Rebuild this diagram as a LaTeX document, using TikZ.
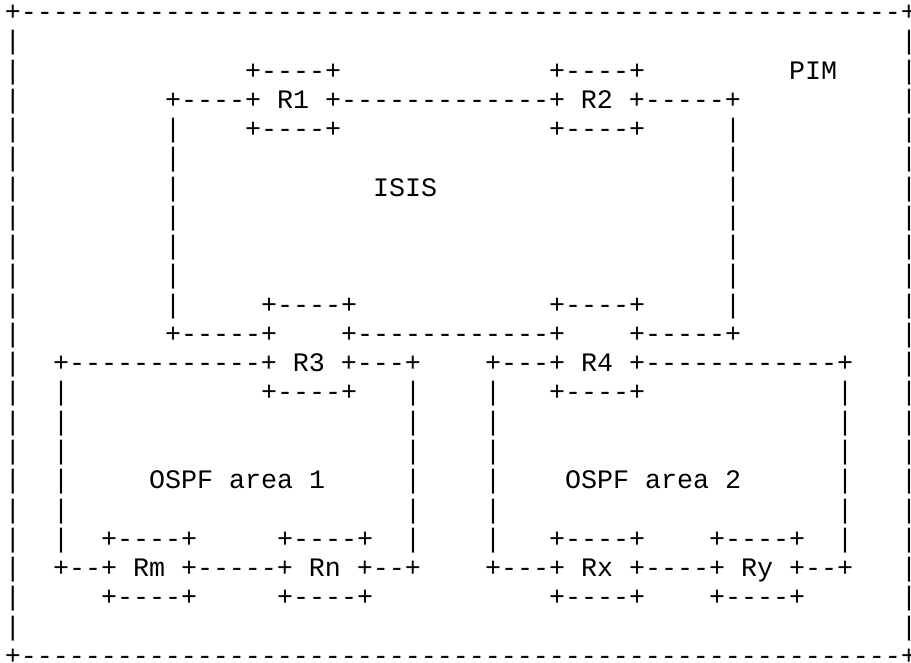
\documentclass[tikz,border=0pt]{standalone}
\usepackage{fontspec}
\setmonofont{Liberation Mono}
\usetikzlibrary{positioning}

\begin{document}
\begin{tikzpicture}[
  x=12pt, y=-21.95pt,
  ascii/.style={font=\ttfamily\fontsize{20}{22}\selectfont, anchor=base west, inner sep=0pt, outer sep=0pt}
]
\useasboundingbox[fill=white] (-0.3125,-0.7004) rectangle (56.625,21.951);

% PIM domain frame
\node[ascii] (pimtop) at (0,0) {+-------------------------------------------------------+};
\node[ascii] (pimbot) at (0,22) {+-------------------------------------------------------+};
\foreach \r in {1,...,21} {
  \node[ascii] (pimleft\r) at (0,\r) {|};
  \node[ascii] (pimright\r) at (56,\r) {|};
}
\node[ascii] (pim) at (49,2) {PIM};

% ISIS backbone
\foreach \r in {4,...,10} {
  \node[ascii] (isisleft\r) at (10,\r) {|};
  \node[ascii] (isisright\r) at (45,\r) {|};
}
\node[ascii] (r1top) at (15,2) {+----+};
\node[ascii] (r2top) at (34,2) {+----+};
\node[ascii] (isisbus) at (10,3) {+----+ R1 +-------------+ R2 +-----+};
\node[ascii] (r1bot) at (15,4) {+----+};
\node[ascii] (r2bot) at (34,4) {+----+};
\node[ascii] (isis) at (23,6) {ISIS};
\node[ascii] (r3top) at (16,10) {+----+};
\node[ascii] (r4top) at (34,10) {+----+};
\node[ascii] (isisbaseA) at (10,11) {+-----+};
\node[ascii] (isisbaseB) at (21,11) {+------------+};
\node[ascii] (isisbaseC) at (39,11) {+-----+};

% OSPF areas
\foreach \r in {13,...,18} {
  \node[ascii] (areaAleft\r) at (3,\r) {|};
  \node[ascii] (areaAright\r) at (25,\r) {|};
  \node[ascii] (areaBleft\r) at (30,\r) {|};
  \node[ascii] (areaBright\r) at (52,\r) {|};
}
\node[ascii] (areaAbus) at (3,12) {+------------+ R3 +---+};
\node[ascii] (areaBbus) at (30,12) {+---+ R4 +------------+};
\node[ascii] (r3bot) at (16,13) {+----+};
\node[ascii] (r4bot) at (34,13) {+----+};
\node[ascii] (ospfA) at (9,16) {OSPF area 1};
\node[ascii] (ospfB) at (35,16) {OSPF area 2};
\node[ascii] (rmtop) at (6,18) {+----+};
\node[ascii] (rntop) at (17,18) {+----+};
\node[ascii] (rxtop) at (34,18) {+----+};
\node[ascii] (rytop) at (44,18) {+----+};
\node[ascii] (areaAlink) at (3,19) {+--+ Rm +-----+ Rn +--+};
\node[ascii] (areaBlink) at (30,19) {+---+ Rx +----+ Ry +--+};
\node[ascii] (rmbot) at (6,20) {+----+};
\node[ascii] (rnbot) at (17,20) {+----+};
\node[ascii] (rxbot) at (34,20) {+----+};
\node[ascii] (rybot) at (44,20) {+----+};
\end{tikzpicture}
\end{document}
